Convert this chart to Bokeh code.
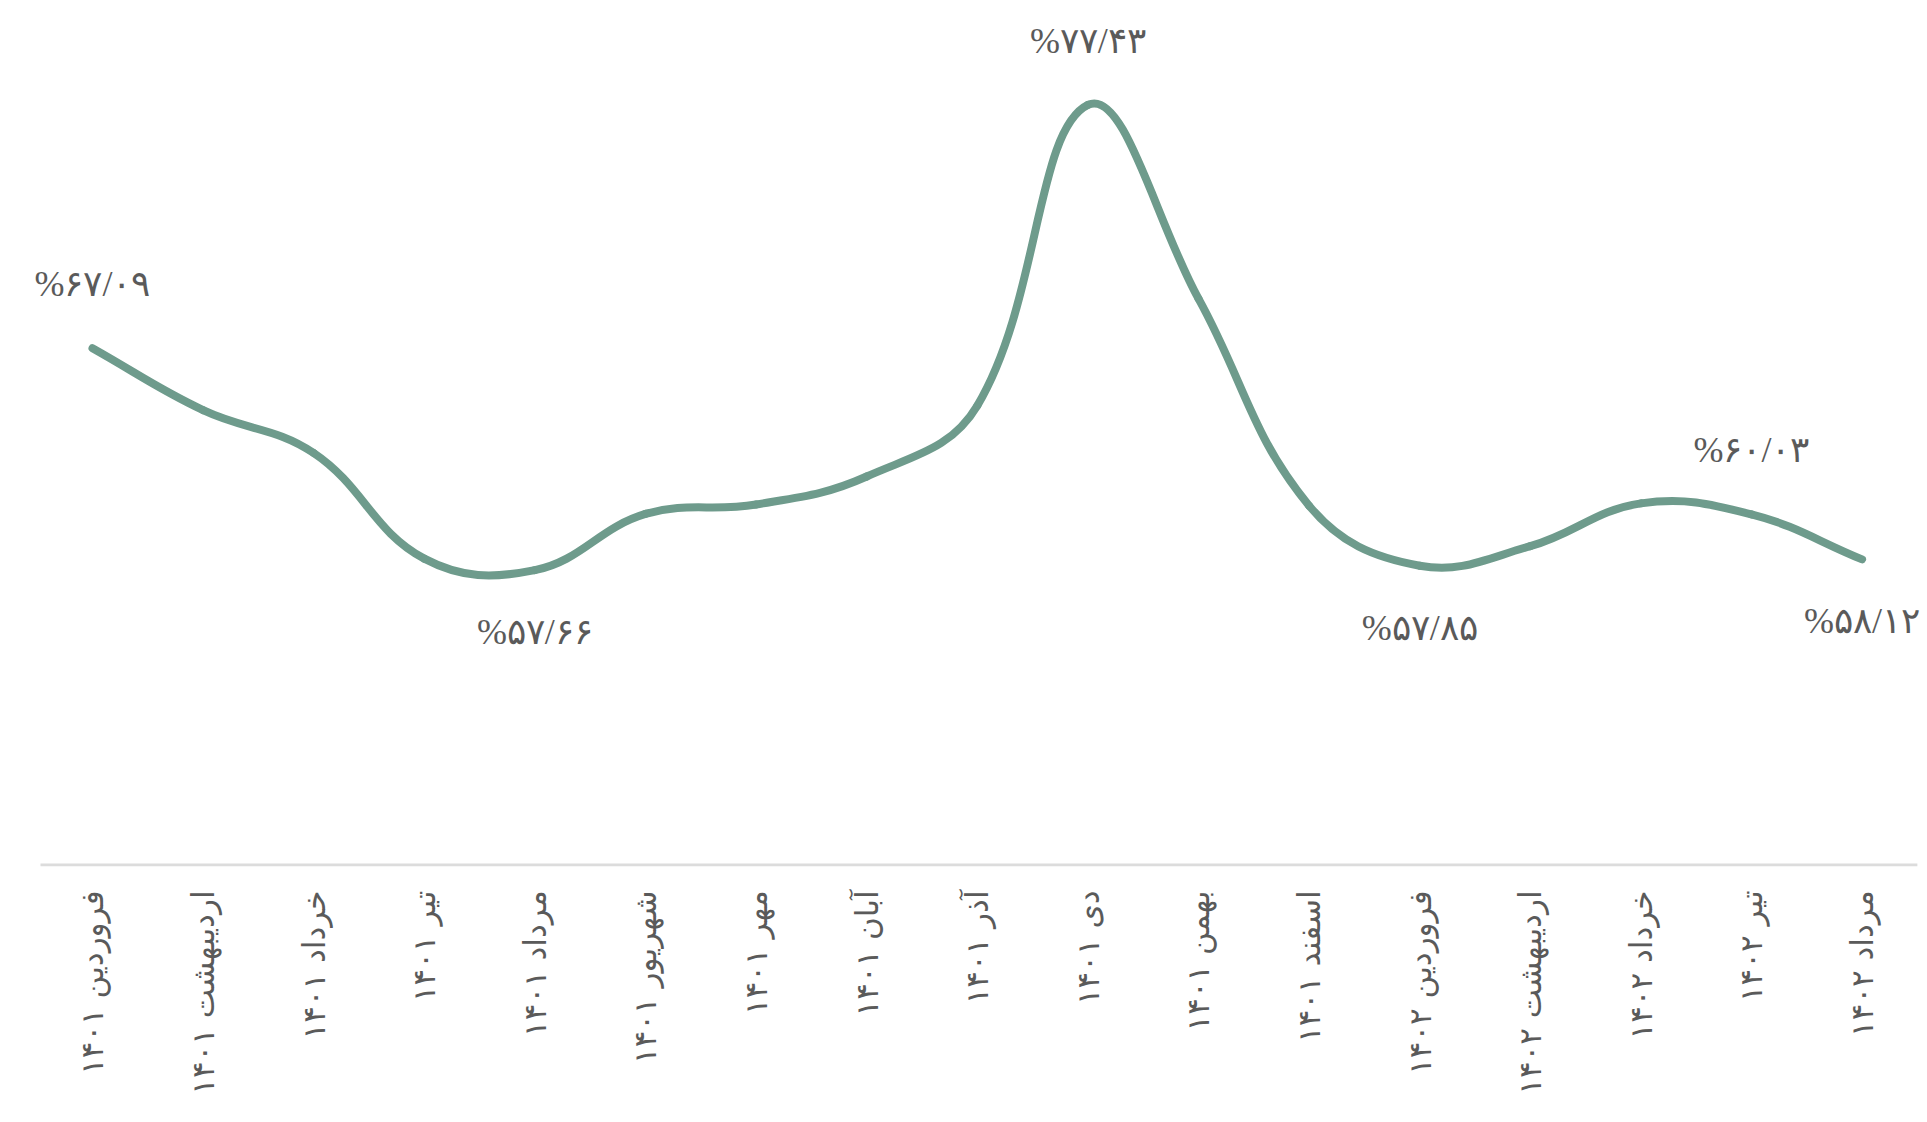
import math

from bokeh.embed import file_html
from bokeh.models import ColumnDataSource, FixedTicker, LabelSet, Range1d
from bokeh.plotting import figure
from bokeh.resources import INLINE

# Monthly share (percent), Farvardin 1401 through Mordad 1402
months = [
    "فروردین ۱۴۰۱", "اردیبهشت ۱۴۰۱", "خرداد ۱۴۰۱", "تیر ۱۴۰۱", "مرداد ۱۴۰۱",
    "شهریور ۱۴۰۱", "مهر ۱۴۰۱", "آبان ۱۴۰۱", "آذر ۱۴۰۱", "دی ۱۴۰۱",
    "بهمن ۱۴۰۱", "اسفند ۱۴۰۱", "فروردین ۱۴۰۲", "اردیبهشت ۱۴۰۲", "خرداد ۱۴۰۲",
    "تیر ۱۴۰۲", "مرداد ۱۴۰۲",
]
rates = [67.09, 64.46, 62.64, 58.15, 57.66, 60.05, 60.45, 61.64, 64.65, 77.43,
         69.20, 60.40, 57.85, 58.68, 60.50, 60.03, 58.12]

# months whose value is written on the chart, and on which side of the line
labelled = [0, 4, 9, 12, 15, 16]
label_above = [True, False, True, False, True, False]

W, H = 1927, 1122
BOTTOM = 256
PX_X = 110.6          # pixels per month
PX_Y = 23.53          # pixels per percentage point
X_LO = -0.47 - 40 / PX_X
X_HI = X_LO + W / PX_X
Y_HI = 81.87
Y_LO = Y_HI - (H - BOTTOM) / PX_Y
# baseline rule spans the month slots only, slightly above the frame edge
RULE_X0, RULE_X1 = -0.47, 16.5
RULE_Y = Y_HI - 864.5 / PX_Y

FONT = "DejaVu Sans"
TEXT = "#5a5a5a"
LINE = "#6e9b8c"

p = figure(width=W, height=H, output_backend="svg", toolbar_location=None,
           x_range=Range1d(X_LO, X_HI), y_range=Range1d(Y_LO, Y_HI),
           min_border_left=0, min_border_right=0,
           min_border_top=0, min_border_bottom=BOTTOM)
p.outline_line_color = None
p.background_fill_color = "white"
p.border_fill_color = "white"
p.xgrid.visible = False
p.ygrid.visible = False
p.yaxis.visible = False

p.segment(x0=[RULE_X0], x1=[RULE_X1], y0=[RULE_Y], y1=[RULE_Y],
          line_color="#dcdcdc", line_width=3)

# smooth curve: one cubic segment per month pair, control points as a
# tension spline computed in screen proportions
xs = list(range(len(rates)))
tension = 0.4


def controls(i):
    prev_i = max(i - 1, 0)
    next_i = min(i + 1, len(rates) - 1)
    x0, y0 = xs[prev_i] * PX_X, rates[prev_i] * PX_Y
    x1, y1 = xs[i] * PX_X, rates[i] * PX_Y
    x2, y2 = xs[next_i] * PX_X, rates[next_i] * PX_Y
    d01 = math.hypot(x1 - x0, y1 - y0)
    d12 = math.hypot(x2 - x1, y2 - y1)
    tot = d01 + d12
    s01 = d01 / tot if tot else 0
    s12 = d12 / tot if tot else 0
    fa, fb = tension * s01, tension * s12
    before = ((x1 - fa * (x2 - x0)) / PX_X, (y1 - fa * (y2 - y0)) / PX_Y)
    after = ((x1 + fb * (x2 - x0)) / PX_X, (y1 + fb * (y2 - y0)) / PX_Y)
    return before, after


cps = [controls(i) for i in range(len(rates))]
seg = ColumnDataSource(dict(
    x0=xs[:-1], y0=rates[:-1], x1=xs[1:], y1=rates[1:],
    cx0=[cps[i][1][0] for i in range(len(rates) - 1)],
    cy0=[cps[i][1][1] for i in range(len(rates) - 1)],
    cx1=[cps[i + 1][0][0] for i in range(len(rates) - 1)],
    cy1=[cps[i + 1][0][1] for i in range(len(rates) - 1)],
))
p.bezier(x0="x0", y0="y0", x1="x1", y1="y1", cx0="cx0", cy0="cy0",
         cx1="cx1", cy1="cy1", source=seg, line_color=LINE, line_width=8,
         line_cap="round")

# value labels in Persian digits
fa_digits = str.maketrans("0123456789.", "۰۱۲۳۴۵۶۷۸۹/")


def fa_pct(v):
    return "%" + f"{v:.2f}".translate(fa_digits)


lab = ColumnDataSource(dict(
    x=[xs[i] for i in labelled],
    y=[rates[i] for i in labelled],
    text=[fa_pct(rates[i]) for i in labelled],
    dy=[64 if up else -62 for up in label_above],
))
p.add_layout(LabelSet(x="x", y="y", text="text", y_offset="dy", source=lab,
                      text_align="center", text_baseline="middle",
                      text_font=FONT, text_font_size="36px",
                      text_color=TEXT))

# month axis (labels only; the rule above is the baseline)
ax = p.xaxis[0]
ax.ticker = FixedTicker(ticks=xs)
ax.major_label_overrides = {i: m for i, m in enumerate(months)}
ax.major_label_orientation = math.pi / 2
ax.major_label_standoff = 18
ax.major_label_text_font = FONT
ax.major_label_text_font_size = "31px"
ax.major_label_text_color = TEXT
ax.major_tick_line_color = None
ax.minor_tick_line_color = None
ax.axis_line_color = None

open("out.html", "w").write(file_html(p, INLINE))
